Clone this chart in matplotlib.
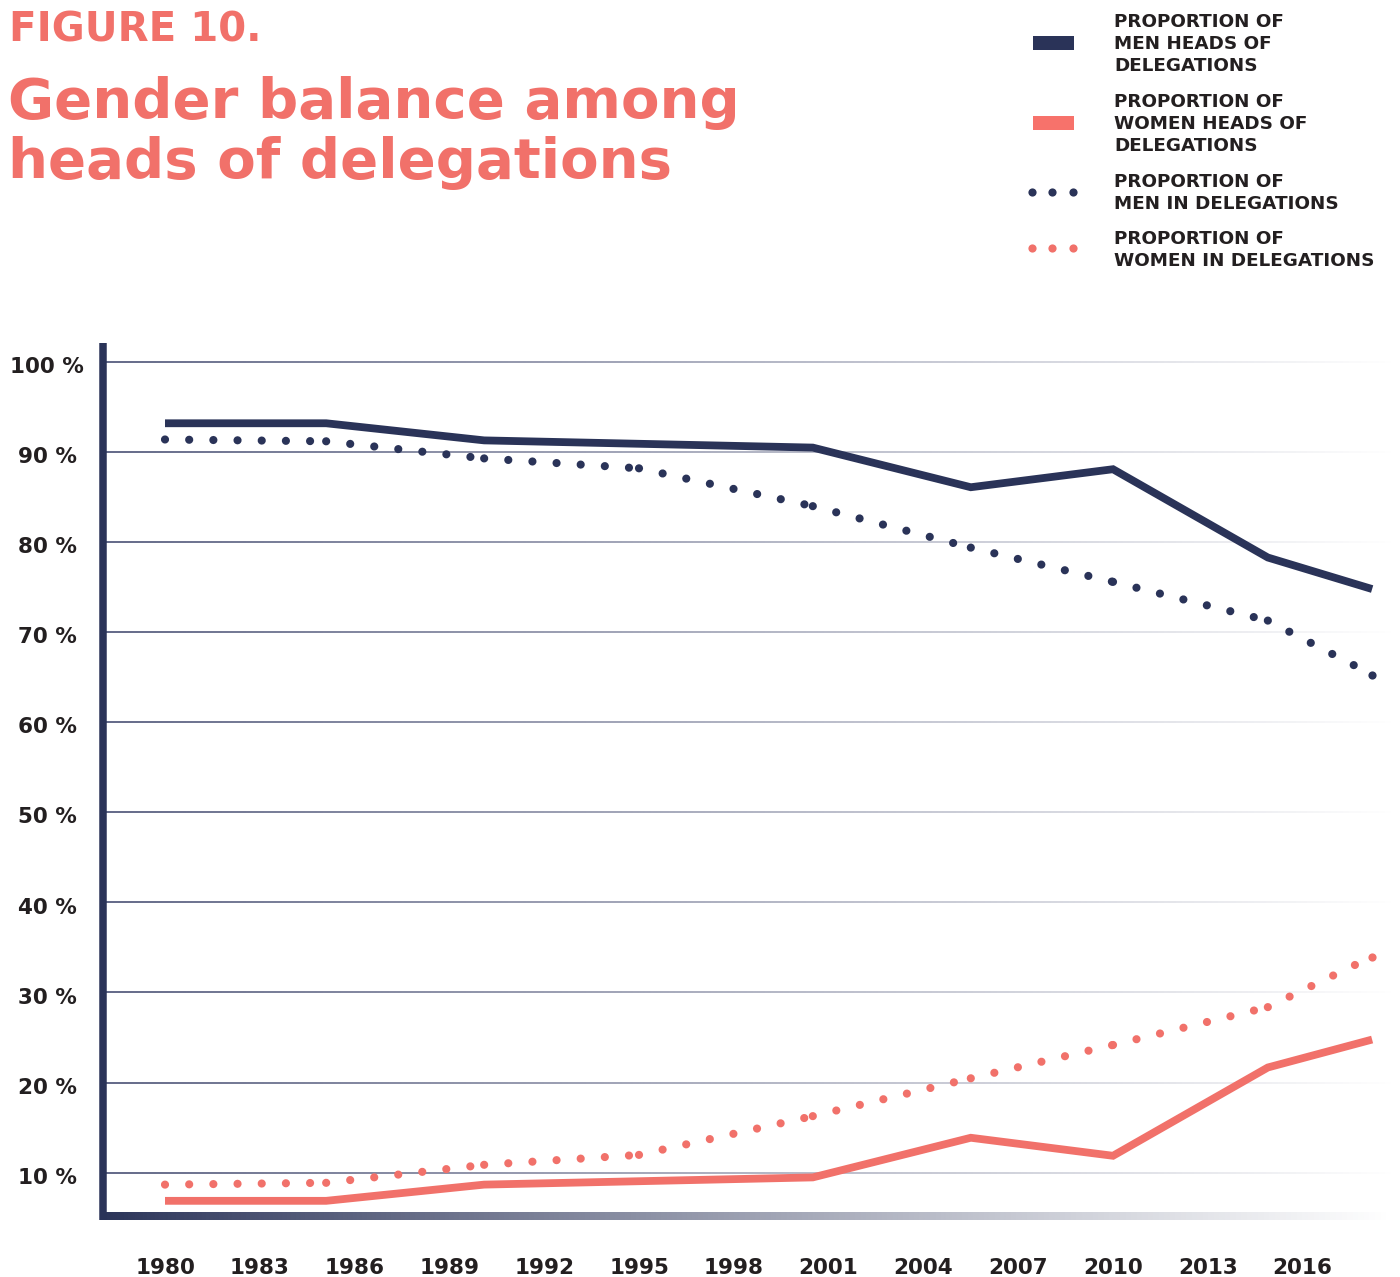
import numpy as np
import matplotlib
matplotlib.use("Agg")
import matplotlib.pyplot as plt
from matplotlib.patches import Rectangle
import matplotlib.transforms as mtransforms
from matplotlib.colors import to_rgb

# ---------------- data ----------------
years_heads = [1980, 1985.1, 1990.1, 2000.5, 2005.5, 2010, 2014.9, 2018.2]
men_heads   = [93.2, 93.2, 91.3, 90.5, 86.1, 88.1, 78.3, 74.8]
women_heads = [6.9, 6.9, 8.7, 9.5, 13.9, 11.9, 21.7, 24.8]

years_deleg = [1980, 1985.1, 1990.1, 1995, 2000.5, 2005.5, 2010, 2014.9, 2018.2]
men_deleg   = [91.4, 91.2, 89.3, 88.2, 84.0, 79.4, 75.6, 71.3, 65.3]
women_deleg = [8.7, 8.9, 10.9, 12.0, 16.3, 20.5, 24.2, 28.4, 34.0]

xtick_years = list(range(1980, 2017, 3))
ytick_vals = [10, 20, 30, 40, 50, 60, 70, 80, 90, 100]
ytick_labels = [f"{v} %" for v in ytick_vals]

legend_labels = [
    ["PROPORTION OF", "MEN HEADS OF", "DELEGATIONS"],
    ["PROPORTION OF", "WOMEN HEADS OF", "DELEGATIONS"],
    ["PROPORTION OF", "MEN IN DELEGATIONS"],
    ["PROPORTION OF", "WOMEN IN DELEGATIONS"],
]

NAVY = "#2a3358"
CORAL = "#f1716a"
TEXT = "#231f20"
FONT = "DejaVu Sans"

W, H = 1400, 1277
fig = plt.figure(figsize=(W / 100, H / 100), dpi=100)
fig.patch.set_facecolor("white")

# main axes in pixel geometry
left_px, right_px, top_px, bottom_px = 103, 1400, 343, 1216
ax = fig.add_axes([left_px / W, (H - bottom_px) / H, (right_px - left_px) / W, (bottom_px - top_px) / H])
px_per_year = 31.6
xmin = 1980 - (165 - left_px) / px_per_year
xmax = 1980 + (right_px - 165) / px_per_year
px_per_pct = 9.01
ymin = 100 - (bottom_px - 362) / px_per_pct
ymax = 100 + (362 - top_px) / px_per_pct
for s in ax.spines.values():
    s.set_visible(False)
ax.set_facecolor("none")

def fade_image(rgb, a0, a1, n=600, power=1.0):
    img = np.zeros((1, n, 4))
    img[..., 0], img[..., 1], img[..., 2] = rgb
    img[0, :, 3] = a0 + (a1 - a0) * np.linspace(0, 1, n) ** power
    return img

# fading gridlines
xend_grid = 1980 + (1398 - 165) / px_per_year
gh = 0.75 / px_per_pct
grid_img = fade_image(to_rgb("#4a5175"), 0.85, 0.0)
for v in ytick_vals:
    ax.imshow(grid_img, extent=(xmin, xend_grid, v - gh, v + gh), aspect="auto",
              interpolation="bilinear", zorder=1)

# bottom gradient axis
xend_axis = 1980 + (1393 - 165) / px_per_year
bh = 3.7 / px_per_pct
ax.imshow(fade_image(to_rgb(NAVY), 1.0, 0.0, power=0.9),
          extent=(xmin, xend_axis, ymin - bh, ymin + bh), aspect="auto",
          interpolation="bilinear", zorder=3, clip_on=False)

# left spine
ax.plot([xmin, xmin], [ymin - bh, ymax], color=NAVY, lw=5.4, solid_capstyle="butt", clip_on=False, zorder=4)

# solid lines
ax.plot(years_heads, men_heads, color=NAVY, lw=5.6, solid_capstyle="butt", solid_joinstyle="miter", zorder=5)
ax.plot(years_heads, women_heads, color=CORAL, lw=5.6, solid_capstyle="butt", solid_joinstyle="miter", zorder=5)

# dotted lines, drawn segment by segment
for ys, col in [(men_deleg, NAVY), (women_deleg, CORAL)]:
    for i in range(len(years_deleg) - 1):
        ax.plot(years_deleg[i:i + 2], ys[i:i + 2], color=col, lw=5.9,
                linestyle=(0, (0.001, 2.95)), dash_capstyle="round", zorder=5)
    ax.plot(years_deleg[-1:], ys[-1:], "o", color=col, ms=5.9, mew=0, zorder=5)

ax.set_xlim(xmin, xmax)
ax.set_ylim(ymin, ymax)

# x tick labels
ax.set_xticks(xtick_years)
ax.set_xticklabels([str(y) for y in xtick_years], fontsize=15.5, fontweight="bold", color=TEXT, family=FONT)
ax.tick_params(axis="x", length=0, pad=30)
ax.set_yticks([])

# y tick labels centred at x=47px, slightly below the gridline
trans = mtransforms.blended_transform_factory(fig.transFigure, ax.transData)
off = mtransforms.ScaledTranslation(0, -5 / 100, fig.dpi_scale_trans)
for v, lab in zip(ytick_vals, ytick_labels):
    ax.text(47 / W, v, lab, transform=trans + off, ha="center", va="center",
            fontsize=15.5, fontweight="bold", color=TEXT, family=FONT, clip_on=False)

# overlay axes in pixel coordinates for title and legend
ov = fig.add_axes([0, 0, 1, 1])
ov.set_xlim(0, W)
ov.set_ylim(H, 0)
ov.axis("off")

ov.text(9, 41, "FIGURE 10.", color=CORAL, fontsize=29, fontweight="bold", family=FONT, va="baseline", ha="left")
ov.text(8, 118, "Gender balance among", color=CORAL, fontsize=40.5, fontweight="bold", family=FONT, va="baseline", ha="left")
ov.text(8, 178, "heads of delegations", color=CORAL, fontsize=40.5, fontweight="bold", family=FONT, va="baseline", ha="left")

# legend markers
ov.add_patch(Rectangle((1033, 36), 41, 14, color=NAVY, lw=0))
ov.add_patch(Rectangle((1033, 116), 41, 14, color="#f7726b", lw=0))
ov.plot([1032, 1052, 1073], [192, 192, 192], "o", color=NAVY, ms=5.9, mew=0)
ov.plot([1032, 1052, 1073], [248, 248, 248], "o", color=CORAL, ms=5.9, mew=0)

baselines = [[27, 49, 71], [107, 129, 151], [187, 209], [244, 266]]
for lines, bls in zip(legend_labels, baselines):
    for t, y in zip(lines, bls):
        ov.text(1114, y, t, color=TEXT, fontsize=13.2, fontweight="bold", family=FONT, va="baseline", ha="left")

fig.savefig("out.png", dpi=100, facecolor="white")
